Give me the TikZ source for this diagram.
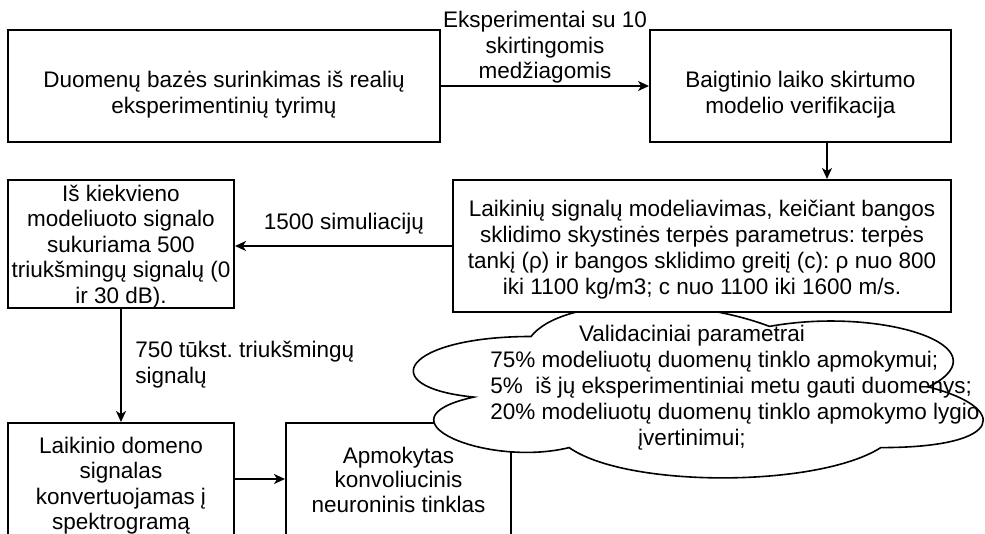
\documentclass[tikz,border=0pt]{standalone}
\usepackage{fontspec}
\setmainfont{Liberation Sans}
\usetikzlibrary{arrows.meta}
\frenchspacing
\begin{document}
\begin{tikzpicture}[x=0.5pt,y=-0.5pt,
  box/.style={draw=black, line width=1pt, fill=white, rectangle, inner sep=0pt},
  txt/.style={align=center, inner sep=0pt, anchor=north, font=\fontsize{11.25pt}{12.75pt}\selectfont},
  ltxt/.style={align=left, inner sep=0pt, anchor=north west, font=\fontsize{11.25pt}{13pt}\selectfont},
  ctxt/.style={align=center, inner sep=0pt, anchor=north, font=\fontsize{11.25pt}{13pt}\selectfont},
  conn/.style={draw=black, line width=0.9pt, -{Stealth[length=5.5pt,width=5pt,inset=1.6pt]}},
  cloudline/.style={draw=black, line width=0.8pt, fill=white}
]
\clip (0,0) rectangle (985,534);
\fill[white] (0,0) rectangle (985,534);

% boxes
\node[box, minimum width=216pt, minimum height=56pt] (b1) at (224,86) {};
\node[box, minimum width=150.5pt, minimum height=56pt] (b2) at (800.5,86) {};
\node[box, minimum width=113pt, minimum height=64pt] (b4) at (121,244) {};
\node[box, minimum width=113pt, minimum height=58.5pt] (b5) at (121,481.5) {};
\node[box, minimum width=112.5pt, minimum height=58.5pt] (b6) at (398.5,481.5) {};

% cloud
\path[cloudline] (531,336.5)
  .. controls (403.8,336.5) and (372,387) .. (473.76,397.1)
  .. controls (372,419.32) and (486.48,467.8) .. (569.16,447.6)
  .. controls (626.4,488) and (817.2,488) .. (880.8,447.6)
  .. controls (1008,447.6) and (1008,407.2) .. (928.5,387)
  .. controls (1008,346.6) and (880.8,306.2) .. (769.5,326.4)
  .. controls (690,296.1) and (562.8,296.1) .. (531,336.5) -- cycle;

\node[box, minimum width=249pt, minimum height=66pt] (b3) at (702,246) {};

% box texts
\node[txt] (t1) at (224,71.1) {Duomenų bazės surinkimas iš realių\\eksperimentinių tyrimų};
\node[txt] (t2) at (800.5,71.1) {Baigtinio laiko skirtumo\\modelio verifikacija};
\node[txt, font=\fontsize{11.25pt}{13pt}\selectfont] (t3) at (702,199.6) {Laikinių signalų modeliavimas, keičiant bangos\\sklidimo skystinės terpės parametrus: terpės\\tankį (ρ) ir bangos sklidimo greitį (c): ρ nuo 800\\iki 1100 kg/m3; c nuo 1100 iki 1600 m/s.};
\node[txt] (t4) at (121,184.6) {Iš kiekvieno\\modeliuoto signalo\\sukuriama 500\\triukšmingų signalų (0\\ir 30 dB).};
\node[txt] (t5) at (121,436.6) {Laikinio domeno\\signalas\\konvertuojamas į\\spektrogramą};
\node[txt, font=\fontsize{11.25pt}{12.25pt}\selectfont] (t6) at (398.5,446.6) {Apmokytas\\konvoliucinis\\neuroninis tinklas};

% cloud texts
\node[ctxt] (c1) at (692,324.6) {Validaciniai parametrai};
\node[ltxt] (c2) at (490,350.6) {75\% modeliuotų duomenų tinklo apmokymui;\\5\%\ \ iš jų eksperimentiniai metu gauti duomenys;\\20\% modeliuotų duomenų tinklo apmokymo lygio};
\node[ctxt] (c3) at (692,428.6) {įvertinimui;};

% connectors
\draw[conn] (b1.east) -- (b2.west);
\draw[conn] ([xshift=13.25pt]b2.south) -- ([xshift=13.25pt]b2.south |- b3.north);
\draw[conn] (b3.west) -- (b3.west -| b4.east);
\draw[conn] (b4.south) -- (b5.north);
\draw[conn] ([yshift=1.25pt]b5.east) -- ([yshift=1.25pt]b5.east -| b6.west);

% connector labels
\node[txt] (l1) at (545,11.1) {Eksperimentai su 10\\skirtingomis\\medžiagomis};
\node[txt] (l2) at (344,213) {1500 simuliacijų};
\node[ltxt] (l3) at (135,340.6) {750 tūkst. triukšmingų\\signalų};
\end{tikzpicture}
\end{document}
